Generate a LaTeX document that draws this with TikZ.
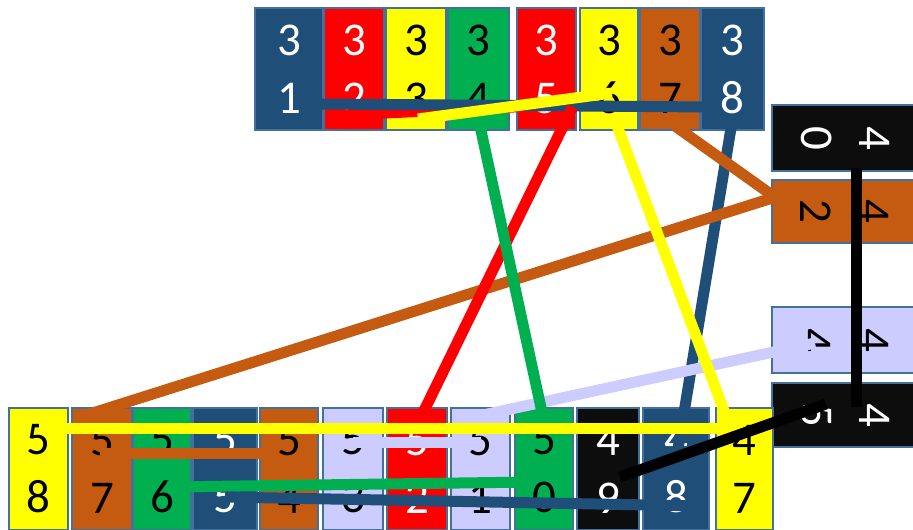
\documentclass[tikz,border=0pt]{standalone}
\usepackage{fontspec}
\setmainfont{Carlito}
\usetikzlibrary{calc}
\definecolor{BlueC}{HTML}{1F4E79}
\definecolor{RedC}{HTML}{FF0000}
\definecolor{YellowC}{HTML}{FFFF00}
\definecolor{GreenC}{HTML}{00B050}
\definecolor{BrownC}{HTML}{C55A11}
\definecolor{LilacC}{HTML}{CCCCFF}
\definecolor{InkC}{HTML}{0D0D0D}
\definecolor{Edge}{HTML}{41719C}
\tikzset{
  cell/.style={draw=Edge, line width=1.5pt, inner sep=0pt, align=center,
               minimum height=122pt, font=\fontsize{47}{58}\selectfont},
  side/.style={cell, rotate=-90, minimum height=146pt},
  dkb/.style={fill=BlueC, text=white},
  rd/.style={fill=RedC, text=white},
  yl/.style={fill=YellowC, text=black},
  gr/.style={fill=GreenC, text=black},
  br/.style={fill=BrownC, text=black},
  lv/.style={fill=LilacC, text=black},
  bk/.style={fill=InkC, text=white},
  wire/.style={line width=11pt},
}

\begin{document}
\begin{tikzpicture}[x=1pt,y=-1pt]
  \useasboundingbox (0,0) rectangle (913,530);
  % top row
  \node[cell, dkb, minimum width=68pt] (c31) at (289,69) {3\\1};
  \node[cell, rd, minimum width=60pt] (c32) at (354,69) {3\\2};
  \node[cell, yl, minimum width=60pt] (c33) at (416,69) {3\\3};
  \node[cell, gr, minimum width=61pt] (c34) at (478.5,69) {3\\4};
  \node[cell, rd, minimum width=59pt] (c35) at (546.5,69) {3\\5};
  \node[cell, yl, minimum width=58pt] (c36) at (609,69) {3\\6};
  \node[cell, br, minimum width=60pt] (c37) at (670,69) {3\\7};
  \node[cell, dkb, minimum width=63pt] (c38) at (732.5,69) {3\\8};
  % right column
  \node[side, bk, minimum width=66pt] (c40) at (845,138) {4\\0};
  \node[side, br, minimum width=63pt] (c42) at (845,211.5) {4\\2};
  \node[side, lv, minimum width=66pt] (c44) at (845,340) {4\\4};
  \node[side, bk, minimum width=64pt] (c45) at (845,415) {4\\5};
  % bottom row
  \node[cell, yl, minimum width=59pt] (c58) at (38.5,469) {5\\8};
  \node[cell, br, minimum width=60pt] (c57) at (102,469) {5\\7};
  \node[cell, gr, minimum width=58pt] (c56) at (162,469) {5\\6};
  \node[cell, dkb, minimum width=64pt] (c55) at (225,469) {5\\5};
  \node[cell, br, minimum width=58pt] (c54) at (289,469) {5\\4};
  \node[cell, lv, minimum width=60pt] (c53) at (353,469) {5\\3};
  \node[cell, rd, minimum width=60pt] (c52) at (417,469) {5\\2};
  \node[cell, lv, minimum width=59pt] (c51) at (480.5,469) {5\\1};
  \node[cell, gr, minimum width=58pt] (c50) at (544,469) {5\\0};
  \node[cell, bk, minimum width=62pt] (c49) at (608,469) {4\\9};
  \node[cell, dkb, minimum width=66pt] (c48) at (676,469) {4\\8};
  \node[cell, yl, minimum width=57pt] (c47) at (744.5,469) {4\\7};

  \draw[wire, RedC] ($(c32)+(-11,46)$) -- ($(c35)+(10,36)$);
  \draw[wire, BlueC] ($(c31)+(33,35)$) -- ($(c38)+(-22,38)$);
  \draw[wire, YellowC] ($(c33)+(2,50)$) -- ($(c36)+(3,24)$);

  \draw[wire, BlueC] ($(c38)+(0,50)$) -- ($(c48)+(0,-8)$);
  \draw[wire, BrownC] ($(c37)+(5,57)$) -- ($(c42)+(-71,-15)$);
  \draw[wire, BrownC] ($(c42)+(-71,-14)$) -- ($(c57)+(-22,-52)$);
  \draw[wire, LilacC] ($(c44)+(-30,3)$) -- ($(c51)+(-25,-48)$);
  \draw[wire, RedC] ($(c35)+(26,38)$) -- ($(c52)+(3,-50)$);
  \draw[wire, GreenC] ($(c34)+(0,50)$) -- ($(c50)+(-1,-52)$);
  \draw[wire, YellowC] ($(c36)+(4,46)$) -- ($(c47)+(-17,-49)$);
  \draw[wire, black] ($(c40)+(11,30)$) -- ($(c45)+(11,-8)$);

  \draw[wire, LilacC] ($(c53)+(0,-27)$) -- ($(c51)+(0,-27)$);
  \draw[wire, BrownC] ($(c57)+(-2,-16)$) -- ($(c54)+(-10,-16)$);
  \draw[wire, GreenC] ($(c56)+(5,18)$) -- ($(c50)+(-12,13)$);
  \draw[wire, BlueC] ($(c55)+(0,28)$) -- ($(c48)+(26,37)$);
  \draw[wire, YellowC] ($(c58)+(0,-41)$) -- ($(c47)+(-15,-41)$);
  \draw[wire, black] ($(c45)+(-19,-11)$) -- ($(c49)+(12,8)$);
\end{tikzpicture}
\end{document}
